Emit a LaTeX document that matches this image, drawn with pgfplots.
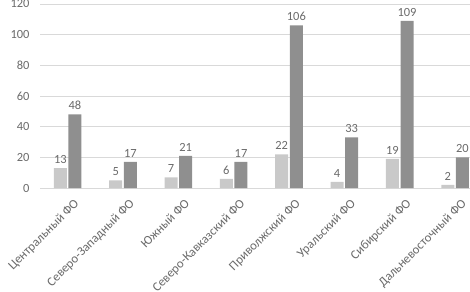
\documentclass[border=0pt]{standalone}
\usepackage{pgfplots}
\pgfplotsset{compat=1.18}
\usepackage{fontspec}
\setmainfont{Carlito}
\definecolor{lightbar}{HTML}{C9C9C9}
\definecolor{darkbar}{HTML}{8F8F8F}
\definecolor{gridc}{HTML}{D9D9D9}
\definecolor{txt}{HTML}{6A6A6A}
\begin{document}
\begin{tikzpicture}[x=1bp,y=1bp]
\begin{axis}[
  at={(40bp,103bp)}, anchor=south west,
  scale only axis,
  width=430bp, height=184bp,
  xmin=-0.5, xmax=7.27,
  ymin=0, ymax=120,
  ytick={0,20,...,120},
  xtick={0,...,7},
  xticklabels={Центральный ФО,Северо-Западный ФО,Южный ФО,Северо-Кавказский ФО,Приволжский ФО,Уральский ФО,Сибирский ФО,Дальневосточный ФО},
  x tick label style={rotate=45, anchor=north east, inner sep=1pt, xshift=-2bp, yshift=-10bp, font=\fontsize{12.8}{15}\selectfont},
  y tick label style={xshift=-7bp, font=\fontsize{12.5}{14}\selectfont},
  tick label style={text=txt},
  /pgf/number format/assume math mode=true,
  major tick length=0pt,
  ymajorgrids, grid style={gridc, line width=0.8pt},
  axis line style={draw=none},
  clip=false,
  ybar, bar width=13bp,
  nodes near coords,
  every node near coord/.append style={font=\fontsize{12.5}{14}\selectfont, text=txt, yshift=1bp},
]
\addplot[fill=lightbar, draw=none, bar shift=-7.3bp] coordinates {(0,13) (1,5) (2,7) (3,6) (4,22) (5,4) (6,19) (7,2)};
\addplot[fill=darkbar, draw=none, bar shift=7.3bp] coordinates {(0,48) (1,17) (2,21) (3,17) (4,106) (5,33) (6,109) (7,20)};
\end{axis}
\pgfresetboundingbox
\useasboundingbox (0,0) rectangle (470,291);
\end{tikzpicture}
\end{document}
